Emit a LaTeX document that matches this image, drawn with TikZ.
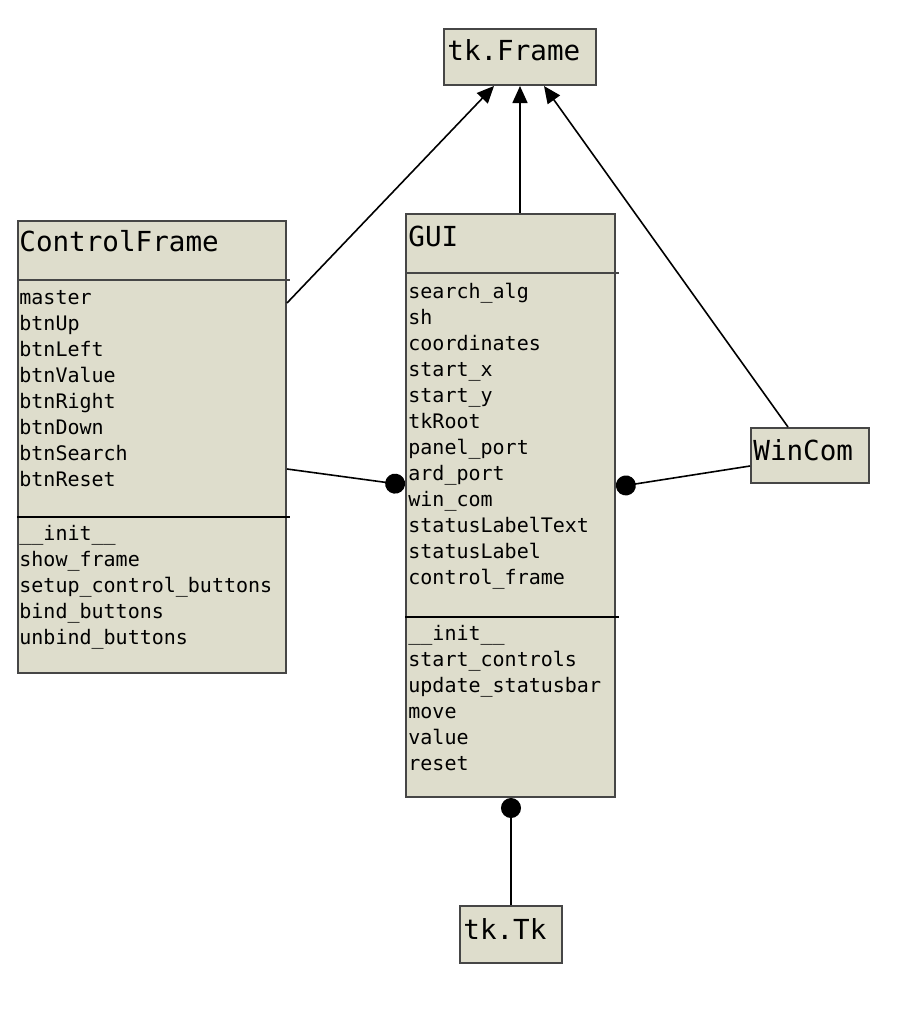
\documentclass[tikz,border=0pt]{standalone}
\usepackage{fontspec}
\setmonofont{DejaVu Sans Mono}
\usetikzlibrary{arrows.meta}
\definecolor{umlfill}{RGB}{222,221,204}
\definecolor{umlline}{RGB}{70,70,70}
\tikzset{>={Triangle[length=8.5pt, width=7.5pt]}}
\tikzset{
    cls/.style={draw=umlline, line width=1pt, fill=umlfill, anchor=north west, inner sep=0pt},
    ttl/.style={anchor=west, inner sep=0pt, font=\ttfamily\fontsize{13.8}{16}\selectfont, text height=10pt, text depth=2.5pt},
    row/.style={anchor=west, inner sep=0pt, font=\ttfamily\fontsize{10}{12}\selectfont, text height=7.5pt, text depth=2pt},
    sep/.style={line width=.8pt},
    dot/.style={-{Circle[length=10pt]}, line width=.8pt}
}

\begin{document}
\begin{tikzpicture}[x=.5pt, y=-.5pt]
    \useasboundingbox(0, 0)rectangle(900, 1030);
    % boxes
    \node[cls, minimum width=76pt, minimum height=28pt](frame)at(443, 28){};
    \node[cls, minimum width=134pt, minimum height=226pt](cf)at(17, 220){};
    \node[cls, minimum width=104.5pt, minimum height=291.5pt](gui)at(405, 213){};
    \node[cls, minimum width=59pt, minimum height=27.5pt](wincom)at(750, 427){};
    \node[cls, minimum width=51pt, minimum height=28.5pt](tk)at(459, 905){};
    \draw[sep, umlline]([yshift=-30pt]cf.north west)--([yshift=-30pt, xshift=1.5pt]cf.north east);
    \draw[sep]([yshift=-148.5pt]cf.north west)--([yshift=-148.5pt, xshift=1.5pt]cf.north east);
    \draw[sep, umlline]([yshift=-30pt]gui.north west)--([yshift=-30pt, xshift=1.5pt]gui.north east);
    \draw[sep]([yshift=-202pt]gui.north west)--([yshift=-202pt, xshift=1.5pt]gui.north east);
    % titles
    \node[ttl](frame-t)at(447, 53){tk.Frame};
    \node[ttl](cf-t)at(19, 244){ControlFrame};
    \node[ttl](gui-t)at(408, 239){GUI};
    \node[ttl](wincom-t)at(753, 453){WinCom};
    \node[ttl](tk-t)at(463, 932){tk.Tk};
    % members
    \foreach \t[count=\i from 0] in {master, btnUp, btnLeft, btnValue, btnRight, btnDown, btnSearch, btnReset}
        \node[row](cf-a\i)at(19, 299+26*\i){\t};
    \foreach \t[count=\i from 0] in {\_\_init\_\_, show\_frame, setup\_control\_buttons, bind\_buttons, unbind\_buttons}
        \node[row](cf-m\i)at(19, 535+26*\i){\t};
    \foreach \t[count=\i from 0] in {search\_alg, sh, coordinates, start\_x, start\_y, tkRoot, panel\_port, ard\_port, win\_com, statusLabelText, statusLabel, control\_frame}
        \node[row](gui-a\i)at(408, 293+26*\i){\t};
    \foreach \t[count=\i from 0] in {\_\_init\_\_, start\_controls, update\_statusbar, move, value, reset}
        \node[row](gui-m\i)at(408, 635+26*\i){\t};
    % inheritance
    \draw[->, line width=.8pt]([yshift=-41.5pt]cf.north east)--([xshift=-13pt]frame.south);
    \draw[->, line width=.8pt](frame.south |- gui.north)--(frame.south);
    \draw[->, line width=.8pt]([xshift=-11pt]wincom.north)--([xshift=12pt]frame.south);
    % composition
    \draw[dot]([yshift=-11pt]cf.east)--([yshift=10.25pt]gui.west);
    \draw[dot]([yshift=-5.25pt]wincom.west)--([yshift=9.25pt]gui.east);
    \draw[dot](tk.north)--(tk.north |- gui.south);
\end{tikzpicture}
\end{document}
